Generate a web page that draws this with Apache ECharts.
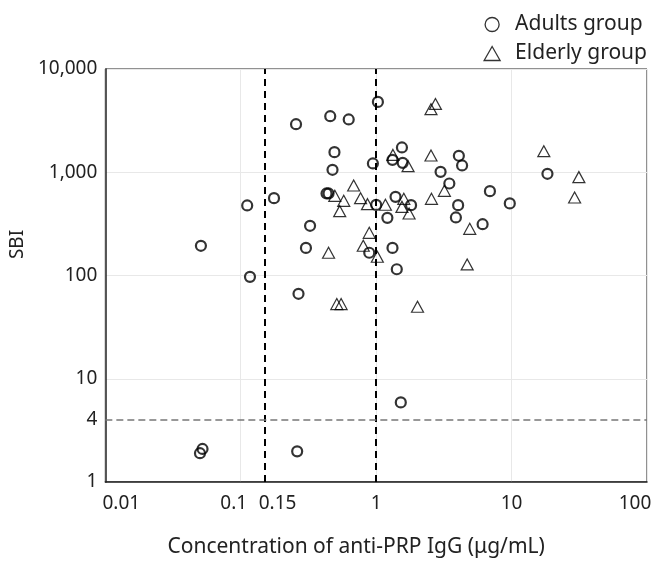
<!DOCTYPE html>
<html>
<head>
<meta charset="utf-8">
<script src="https://cdn.jsdelivr.net/npm/echarts@6/dist/echarts.min.js"></script>
<style>
  html, body { margin: 0; padding: 0; background: #fff; }
  #echart { width: 656px; height: 564px; }
</style>
</head>
<body>
<div id="echart"></div>
<script>
// [anti-PRP IgG (μg/mL), SBI]
var adultsData = [
  [1.03, 4800], [0.256, 2920], [0.458, 3490], [0.627, 3245], [0.492, 1566],
  [0.476, 1056], [0.946, 1217], [0.43, 623], [0.445, 623], [0.176, 561],
  [0.1116, 477], [1.0, 483], [0.325, 303], [0.303, 185], [0.0508, 194],
  [0.889, 166], [0.117, 97], [1.55, 1738], [1.32, 1318], [1.57, 1233],
  [4.08, 1443], [4.31, 1164], [2.99, 1009], [3.47, 778], [6.92, 656],
  [18.4, 966], [1.39, 578], [1.81, 480], [4.03, 480], [9.7, 499],
  [1.21, 362], [3.88, 365], [6.11, 314], [1.32, 185], [1.42, 115],
  [1.52, 5.9], [0.267, 66.5], [0.0522, 2.09], [0.050, 1.90], [0.261, 1.98]
];
var elderlyData = [
  [0.682, 745], [0.495, 591], [0.576, 529], [0.767, 561], [0.863, 491],
  [0.538, 420], [0.889, 259], [0.445, 166], [0.803, 194], [1.02, 152],
  [2.74, 4590], [2.54, 4080], [1.33, 1473], [1.72, 1146], [2.54, 1454],
  [17.3, 1600], [31.4, 897], [29.2, 570], [3.19, 661], [2.56, 553],
  [1.60, 553], [1.17, 484], [1.55, 462], [1.75, 399], [4.91, 283],
  [4.70, 128], [2.02, 49.8], [0.512, 52.9], [0.551, 52.9]
];
var xTicks = [0.01, 0.1, 0.15, 1, 10, 100];
var yTicks = [1, 4, 10, 100, 1000, 10000];
var cutoffX = [0.15, 1];
var cutoffY = 4;

var font = '"Noto Sans", "Open Sans", sans-serif';
var myChart = echarts.init(document.getElementById('echart'));

// nudge crowded / edge x labels like the original
var xLabelStyle = {0.01: 'l', 0.1: 'a', 0.15: 'b', 100: 'r'};

var option = {
  animation: false,
  legend: {
    orient: 'vertical',
    right: 9,
    top: 14,
    padding: 0,
    itemWidth: 16,
    itemHeight: 14,
    itemGap: 8,
    textStyle: { fontFamily: font, fontSize: 21, color: '#222', padding: [0, 0, 0, 10] },
    data: [
      { name: 'Adults group', icon: 'circle', itemStyle: { borderWidth: 1.3 } },
      { name: 'Elderly group', icon: 'triangle', itemStyle: { borderWidth: 1.3 } }
    ]
  },
  grid: {
    left: 103, right: 9, top: 69, bottom: 82,
    show: true, borderColor: '#222', borderWidth: 1
  },
  xAxis: {
    type: 'log',
    logBase: 10,
    min: 0.01,
    max: 100,
    name: 'Concentration of anti-PRP IgG (μg/mL)',
    nameLocation: 'middle',
    nameGap: 55,
    nameTextStyle: { fontFamily: font, fontSize: 21, color: '#222', padding: [0, 40, 0, 0] },
    axisLine: { lineStyle: { color: '#222', width: 1.5 } },
    axisTick: { show: false },
    splitLine: { show: true, lineStyle: { color: '#e8e8e8', width: 1 } },
    axisLabel: {
      customValues: xTicks,
      margin: 12,
      fontFamily: font, fontSize: 19, color: '#222',
      formatter: function (v) {
        var k = xLabelStyle[v];
        return k ? '{' + k + '|' + v + '}' : String(v);
      },
      rich: {
        l: { fontFamily: font, fontSize: 19, color: '#222', padding: [0, 0, 0, 32] },
        a: { fontFamily: font, fontSize: 19, color: '#222', padding: [0, 14, 0, 0] },
        b: { fontFamily: font, fontSize: 19, color: '#222', padding: [0, 0, 0, 26] },
        r: { fontFamily: font, fontSize: 19, color: '#222', padding: [0, 24, 0, 0] }
      }
    }
  },
  yAxis: {
    type: 'log',
    logBase: 10,
    min: 1,
    max: 10000,
    name: 'SBI',
    nameLocation: 'middle',
    nameGap: 78,
    nameTextStyle: { fontFamily: font, fontSize: 19, color: '#222', padding: [0, 0, 0, 62] },
    axisLine: { lineStyle: { color: '#222', width: 1.5 } },
    axisTick: { show: false },
    splitLine: { show: true, lineStyle: { color: '#e8e8e8', width: 1 } },
    axisLabel: {
      customValues: yTicks,
      margin: 8,
      fontFamily: font, fontSize: 19, color: '#222',
      formatter: function (v) { return Number(v).toLocaleString('en-US'); }
    }
  },
  series: [
    {
      name: 'Adults group',
      type: 'scatter',
      symbol: 'circle',
      symbolSize: 10,
      data: adultsData,
      itemStyle: { color: 'rgba(255,255,255,0)', borderColor: '#000', borderWidth: 2.2 },
      z: 3,
      markLine: {
        silent: true,
        symbol: 'none',
        label: { show: false },
        data: cutoffX.map(function (x) {
          return { xAxis: x, lineStyle: { color: '#000', width: 2, type: [7, 5] } };
        }).concat([
          { yAxis: cutoffY, lineStyle: { color: '#777', width: 1.5, type: [7, 4] } }
        ])
      }
    },
    {
      name: 'Elderly group',
      type: 'scatter',
      symbol: 'triangle',
      symbolSize: [12, 11],
      data: elderlyData,
      itemStyle: { color: 'rgba(255,255,255,0)', borderColor: '#000', borderWidth: 1.2 },
      z: 3
    }
  ]
};

myChart.setOption(option);
window.addEventListener('resize', function () {
  myChart.resize();
});
</script>
</body>
</html>
